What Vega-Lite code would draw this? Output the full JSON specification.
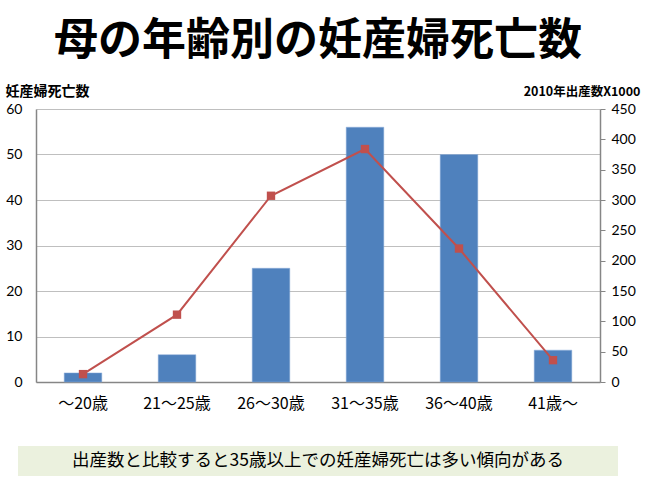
{
  "$schema": "https://vega.github.io/schema/vega-lite/v6.json",
  "background": "white",
  "padding": {"left": 5, "top": 20, "right": 5, "bottom": 5},
  "bounds": "flush",
  "center": true,
  "spacing": 64,
  "config": {
    "view": {"stroke": null},
    "font": "Noto Sans CJK JP"
  },
  "datasets": {
    "main": [
      {"age": "～20歳", "deaths": 2, "births": 13},
      {"age": "21～25歳", "deaths": 6, "births": 111},
      {"age": "26～30歳", "deaths": 25, "births": 307},
      {"age": "31～35歳", "deaths": 56, "births": 384},
      {"age": "36～40歳", "deaths": 50, "births": 220},
      {"age": "41歳～", "deaths": 7, "births": 36}
    ],
    "caption": [
      {"text": "出産数と比較すると35歳以上での妊産婦死亡は多い傾向がある"}
    ]
  },
  "vconcat": [
    {
      "width": 564,
      "height": 273,
      "title": {
        "text": "母の年齢別の妊産婦死亡数",
        "font": "Noto Sans CJK JP",
        "fontSize": 44,
        "fontWeight": "bold",
        "color": "black",
        "anchor": "middle",
        "offset": 20
      },
      "data": {"name": "main"},
      "encoding": {
        "x": {
          "field": "age",
          "type": "nominal",
          "sort": null,
          "scale": {"paddingInner": 0.6, "paddingOuter": 0.3},
          "axis": {
            "title": null,
            "labelAngle": 0,
            "labelFont": "Noto Sans CJK JP",
            "labelFontSize": 16,
            "labelColor": "black",
            "labelPadding": 13,
            "ticks": false,
            "domainColor": "#868686",
            "domainWidth": 1.5
          }
        }
      },
      "layer": [
        {
          "mark": {"type": "bar", "color": "#4F81BD", "stroke": "#8eaedb", "strokeWidth": 0.5},
          "encoding": {
            "y": {
              "field": "deaths",
              "type": "quantitative",
              "scale": {"domain": [0, 60]},
              "axis": {
                "values": [0, 10, 20, 30, 40, 50, 60],
                "title": "妊産婦死亡数",
                "titleAngle": 0,
                "titleX": -31,
                "titleY": -18,
                "titleAlign": "left",
                "titleBaseline": "middle",
                "titleFontSize": 14,
                "titleFontWeight": "bold",
                "titleColor": "black",
                "titleFont": "Noto Sans CJK JP",
                "labelFont": "Lato",
                "labelFontSize": 14,
                "labelColor": "black",
                "labelPadding": 14,
                "ticks": false,
                "domainColor": "#868686",
                "domainWidth": 1.5,
                "gridColor": "#bfbfbf",
                "gridWidth": 1.2
              }
            }
          }
        },
        {
          "mark": {
            "type": "line",
            "color": "#C0504D",
            "strokeWidth": 2,
            "point": {"shape": "square", "size": 70, "filled": true, "color": "#C0504D"}
          },
          "encoding": {
            "y": {
              "field": "births",
              "type": "quantitative",
              "scale": {"domain": [0, 450]},
              "axis": {
                "orient": "right",
                "values": [0, 50, 100, 150, 200, 250, 300, 350, 400, 450],
                "grid": false,
                "title": "2010年出産数X1000",
                "titleAngle": 0,
                "titleX": 40,
                "titleY": -18,
                "titleAlign": "right",
                "titleBaseline": "middle",
                "titleFontSize": 12.5,
                "titleFontWeight": "bold",
                "titleColor": "black",
                "titleFont": "Noto Sans CJK JP",
                "labelFont": "Lato",
                "labelFontSize": 14,
                "labelColor": "black",
                "labelPadding": 6,
                "ticks": true,
                "tickSize": 5,
                "tickColor": "#868686",
                "domainColor": "#868686",
                "domainWidth": 1.5
              }
            }
          }
        }
      ],
      "resolve": {"scale": {"y": "independent"}}
    },
    {
      "width": 600,
      "height": 30,
      "view": {"fill": "#EBF1DE", "stroke": null},
      "data": {"name": "caption"},
      "mark": {"type": "text", "font": "Noto Sans CJK JP", "fontSize": 17.5, "color": "black"},
      "encoding": {"text": {"field": "text", "type": "nominal"}}
    }
  ]
}
